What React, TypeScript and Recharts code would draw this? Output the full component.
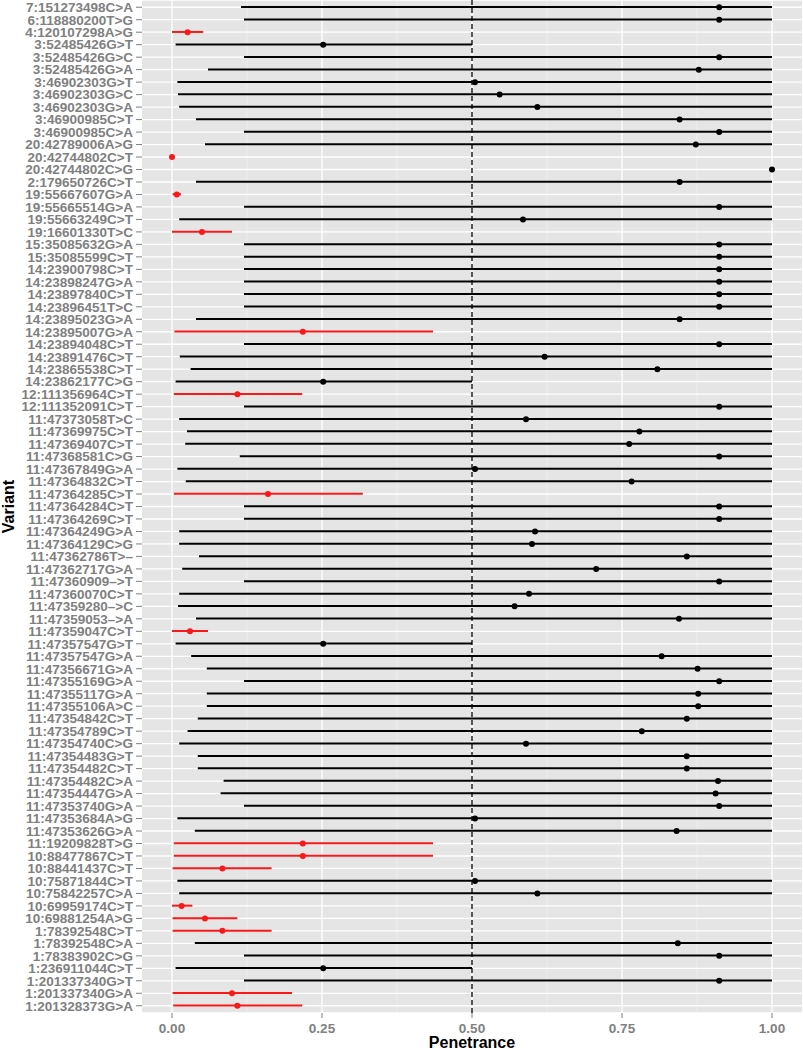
import React from 'react';
import { ComposedChart, Bar, Line, XAxis, YAxis, CartesianGrid, ReferenceLine, Cell } from 'recharts';

const variants = [
  '7:151273498C>A', '6:118880200T>G', '4:120107298A>G', '3:52485426G>T', '3:52485426G>C',
  '3:52485426G>A', '3:46902303G>T', '3:46902303G>C', '3:46902303G>A', '3:46900985C>T',
  '3:46900985C>A', '20:42789006A>G', '20:42744802C>T', '20:42744802C>G', '2:179650726C>T',
  '19:55667607G>A', '19:55665514G>A', '19:55663249C>T', '19:16601330T>C', '15:35085632G>A',
  '15:35085599C>T', '14:23900798C>T', '14:23898247G>A', '14:23897840C>T', '14:23896451T>C',
  '14:23895023G>A', '14:23895007G>A', '14:23894048C>T', '14:23891476C>T', '14:23865538C>T',
  '14:23862177C>G', '12:111356964C>T', '12:111352091C>T', '11:47373058T>C', '11:47369975C>T',
  '11:47369407C>T', '11:47368581C>G', '11:47367849G>A', '11:47364832C>T', '11:47364285C>T',
  '11:47364284C>T', '11:47364269C>T', '11:47364249G>A', '11:47364129C>G', '11:47362786T>–',
  '11:47362717G>A', '11:47360909–>T', '11:47360070C>T', '11:47359280–>C', '11:47359053–>A',
  '11:47359047C>T', '11:47357547G>T', '11:47357547G>A', '11:47356671G>A', '11:47355169G>A',
  '11:47355117G>A', '11:47355106A>C', '11:47354842C>T', '11:47354789C>T', '11:47354740C>G',
  '11:47354483G>T', '11:47354482C>T', '11:47354482C>A', '11:47354447G>A', '11:47353740G>A',
  '11:47353684A>G', '11:47353626G>A', '11:19209828T>G', '10:88477867C>T', '10:88441437C>T',
  '10:75871844C>T', '10:75842257C>A', '10:69959174C>T', '10:69881254A>G', '1:78392548C>T',
  '1:78392548C>A', '1:78383902C>G', '1:236911044C>T', '1:201337340G>T', '1:201337340G>A',
  '1:201328373G>A',
];

const penetrance = [
  0.912, 0.912, 0.026, 0.252, 0.912, 0.878, 0.505, 0.546, 0.609, 0.846,
  0.912, 0.873, 0.0, 1.0, 0.846, 0.008, 0.912, 0.585, 0.05, 0.912,
  0.912, 0.912, 0.912, 0.912, 0.912, 0.846, 0.218, 0.912, 0.621, 0.809,
  0.252, 0.109, 0.912, 0.59, 0.779, 0.762, 0.912, 0.505, 0.766, 0.16,
  0.912, 0.912, 0.605, 0.6, 0.858, 0.707, 0.912, 0.595, 0.571, 0.845,
  0.03, 0.252, 0.816, 0.876, 0.912, 0.877, 0.877, 0.858, 0.783, 0.59,
  0.858, 0.858, 0.91, 0.906, 0.912, 0.505, 0.841, 0.218, 0.218, 0.084,
  0.505, 0.609, 0.016, 0.055, 0.084, 0.843, 0.912, 0.252, 0.912, 0.1,
  0.109,
];

const lower = [
  0.115, 0.12, 0.0, 0.006, 0.12, 0.06, 0.009, 0.01, 0.012, 0.04,
  0.12, 0.055, 0.0, 1.0, 0.04, 0.001, 0.12, 0.012, 0.0, 0.12,
  0.12, 0.12, 0.12, 0.12, 0.12, 0.04, 0.004, 0.12, 0.013, 0.031,
  0.006, 0.003, 0.12, 0.012, 0.025, 0.022, 0.113, 0.009, 0.023, 0.003,
  0.12, 0.12, 0.012, 0.012, 0.045, 0.017, 0.12, 0.012, 0.01, 0.04,
  0.0, 0.006, 0.032, 0.058, 0.12, 0.058, 0.058, 0.043, 0.026, 0.012,
  0.043, 0.043, 0.086, 0.081, 0.12, 0.009, 0.038, 0.003, 0.003, 0.001,
  0.009, 0.012, 0.0, 0.001, 0.001, 0.038, 0.12, 0.006, 0.12, 0.001,
  0.002,
];

const upper = [
  1, 1, 0.052, 0.5, 1, 1, 1, 1, 1, 1,
  1, 1, 0.0, 1, 1, 0.015, 1, 1, 0.1, 1,
  1, 1, 1, 1, 1, 1, 0.435, 1, 1, 1,
  0.5, 0.217, 1, 1, 1, 1, 1, 1, 1, 0.318,
  1, 1, 1, 1, 1, 1, 1, 1, 1, 1,
  0.06, 0.5, 1, 1, 1, 1, 1, 1, 1, 1,
  1, 1, 1, 1, 1, 1, 1, 0.435, 0.435, 0.166,
  1, 1, 0.034, 0.109, 0.166, 1, 1, 0.5, 1, 0.2,
  0.217,
];

const xTicks = [0, 0.25, 0.5, 0.75, 1];
const xMinor = [0.125, 0.375, 0.625, 0.875];

const data = variants.map((name, i) => ({
  name,
  est: penetrance[i],
  range: [lower[i], upper[i]],
  color: upper[i] < 0.5 ? '#f8191b' : '#000000',
}));

const tickFont = { fontFamily: 'Liberation Sans, Arial, sans-serif', fontSize: 13.5, fontWeight: 'bold', fill: '#808080' };
const titleFont = { fontFamily: 'Liberation Sans, Arial, sans-serif', fontSize: 16, fontWeight: 'bold', fill: '#000' };

const Dot = (props: any) => {
  const { cx, cy, payload } = props;
  if (cx == null || cy == null) return null;
  return <circle cx={cx} cy={cy} r={3} fill={payload.color} stroke="none" />;
};

export default function App() {
  return (
    <div style={{ position: 'absolute', left: 0, top: 0, background: '#fff' }}>
      <ComposedChart
        width={803}
        height={1050}
        data={data}
        layout="vertical"
        margin={{ top: 0, right: 1, bottom: 0, left: 0 }}
        barCategoryGap={0}
      >
        <CartesianGrid fill="#e5e5e5" stroke="#f2f2f2" strokeWidth={0.6} horizontal={false} verticalValues={xMinor} />
        <CartesianGrid fill="none" stroke="#ffffff" strokeWidth={1.3} verticalValues={xTicks} />
        <XAxis
          type="number"
          domain={[-0.05, 1.05]}
          ticks={xTicks}
          tickFormatter={(v: number) => v.toFixed(2)}
          axisLine={false}
          tickLine={{ stroke: '#7f7f7f' }}
          tickSize={5}
          tickMargin={5}
          tick={tickFont}
          height={37}
          allowDataOverflow
          label={{ value: 'Penetrance', position: 'insideBottom', offset: 2, style: titleFont }}
        />
        <YAxis
          type="category"
          dataKey="name"
          interval={0}
          width={142}
          axisLine={false}
          tickLine={{ stroke: '#7f7f7f' }}
          tickSize={6}
          tickMargin={3}
          tick={tickFont}
          padding={{ top: 1, bottom: 1 }}
          label={{ value: 'Variant', angle: -90, position: 'insideLeft', offset: 8, style: { ...titleFont, textAnchor: 'middle' } }}
        />
        <Bar dataKey="range" barSize={2} isAnimationActive={false}>
          {data.map((d, i) => (
            <Cell key={i} fill={d.color} />
          ))}
        </Bar>
        <ReferenceLine x={0.5} stroke="#000" strokeWidth={1.3} strokeDasharray="5 3" />
        <Line
          dataKey="est"
          stroke="none"
          dot={<Dot />}
          activeDot={false}
          isAnimationActive={false}
        />
      </ComposedChart>
    </div>
  );
}
